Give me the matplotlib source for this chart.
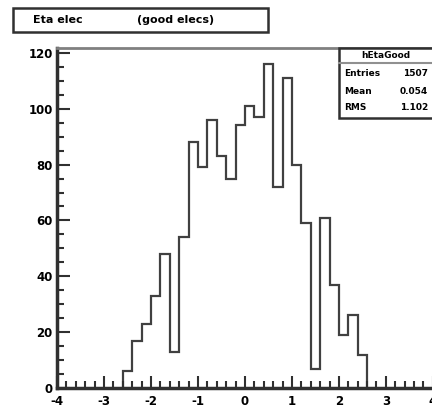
import numpy as np
import matplotlib.pyplot as plt
from matplotlib.ticker import MultipleLocator, FuncFormatter

plt.rcParams['font.family'] = ['DejaVu Sans']
plt.rcParams['font.weight'] = 'bold'

# eta of good electrons, 0.2 wide bins
edges = np.round(np.arange(-2.6, 2.61, 0.2), 1)
counts = [6, 17, 23, 33, 48, 13, 54, 88, 79, 96, 83, 75, 94,
          101, 97, 116, 72, 111, 80, 59, 7, 61, 37, 19, 26, 12]

counts = np.array(counts)
centers = 0.5 * (edges[:-1] + edges[1:])
n_entries = counts.sum()
mean = np.sum(centers * counts) / n_entries
rms = np.sqrt(np.sum(counts * (centers - mean) ** 2) / n_entries)

fig = plt.figure(figsize=(4.32, 4.12), dpi=100)
ax = fig.add_axes([0.132, 0.058, 0.870, 0.826])

ax.stairs(counts, edges, color='#404040', linewidth=1.6, baseline=0)

ax.set_xlim(-4, 4)
ax.set_ylim(0, 121.8)
ax.xaxis.set_major_locator(MultipleLocator(1))
ax.xaxis.set_minor_locator(MultipleLocator(0.2))
ax.yaxis.set_major_locator(MultipleLocator(20))
ax.yaxis.set_minor_locator(MultipleLocator(5))
plain = FuncFormatter(lambda v, pos: f'{v:.0f}'.replace('\u2212', '-'))
ax.xaxis.set_major_formatter(plain)
ax.yaxis.set_major_formatter(plain)
ax.tick_params(which='both', direction='in', color='#303030', width=1.5,
               top=False, right=False)
ax.tick_params(which='major', length=9)
ax.tick_params(which='minor', length=5)
ax.tick_params(axis='x', labelsize=8.5, pad=5)
ax.tick_params(axis='y', labelsize=8.5, pad=3)
for lab in ax.get_xticklabels() + ax.get_yticklabels():
    lab.set_fontweight('bold')
for side in ['left', 'bottom']:
    ax.spines[side].set_linewidth(2.5)
    ax.spines[side].set_color('#303030')
ax.spines['top'].set_linewidth(2.0)
ax.spines['top'].set_color('#808080')
ax.spines['right'].set_visible(False)

# title box
fig.patches.append(plt.Rectangle((13 / 432, 1 - 32 / 412), 255 / 432, 24 / 412,
                                 transform=fig.transFigure, fill=False,
                                 edgecolor='#303030', linewidth=1.8))
fig.text(33 / 432, 1 - 20 / 412, 'Eta elec', fontsize=8,
         fontweight='bold', va='center', ha='left')
fig.text(137 / 432, 1 - 20 / 412, '(good elecs)', fontsize=8,
         fontweight='bold', va='center', ha='left')

# statistics box
bx0, by0, by1 = 339 / 432, 1 - 118 / 412, 1 - 48 / 412
fig.patches.append(plt.Rectangle((bx0, by0), 1 - bx0 + 0.01, by1 - by0,
                                 transform=fig.transFigure, facecolor='white',
                                 edgecolor='#303030', linewidth=1.8, zorder=5))
fig.add_artist(plt.Line2D([bx0, 1], [1 - 63 / 412] * 2, transform=fig.transFigure,
                          color='#909090', linewidth=1.5, zorder=6))
fig.text(0.5 * (bx0 + 1), 1 - 56 / 412, 'hEtaGood', fontsize=6.5,
         fontweight='bold', ha='center', va='center', zorder=7)
rows = [('Entries', f'{n_entries}'), ('Mean', f'{mean:.3f}'), ('RMS', f'{rms:.3f}')]
for i, (name, val) in enumerate(rows):
    y = 1 - (74 + 17 * i) / 412
    fig.text(344 / 432, y, name, fontsize=6.5, fontweight='bold', va='center', zorder=7)
    fig.text(428 / 432, y, val, fontsize=6.5, fontweight='bold', va='center',
             ha='right', zorder=7)

fig.savefig('out.png', dpi=100)
